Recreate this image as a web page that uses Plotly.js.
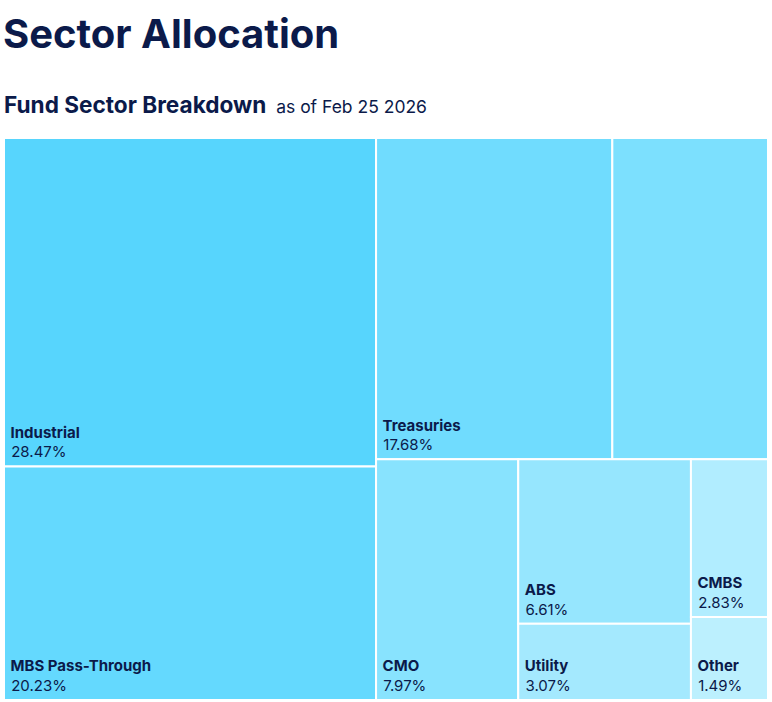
<!DOCTYPE html>
<html>
<head>
<meta charset="utf-8">
<script src="https://cdn.plot.ly/plotly-3.0.1.min.js"></script>
<style>
  html, body { margin: 0; padding: 0; background: #ffffff; }
  #chart { width: 772px; height: 702px; }
</style>
</head>
<body>
<div id="chart"></div>
<script>
// Data
const sectorIds   = ["Industrial", "MBS Pass-Through", "Treasuries", "Unlabeled", "CMO", "ABS", "Utility", "CMBS", "Other"];
const sectorNames = ["Industrial", "MBS Pass-Through", "Treasuries", "", "CMO", "ABS", "Utility", "CMBS", "Other"];
const sectorValues = [28.47, 20.23, 17.68, 11.65, 7.97, 6.61, 3.07, 2.83, 1.49];
const tileColors = ["#57d5fd", "#64d9fe", "#70dcfe", "#7ce0fe", "#88e3fe", "#96e6fe", "#a4e9fe", "#b1edff", "#bcf0fe"];

const textColor = "#0b1a4a";
const FONT = "Inter, 'Noto Sans', sans-serif";

const lead = "\u00a0";
const tileText = sectorIds.map(function (id, i) {
  if (!sectorNames[i]) return "";
  return "<b>" + lead + sectorNames[i] + "</b><br>" + lead + sectorValues[i].toFixed(2) + "%" +
         "<sub>" + lead + "</sub>";
});

const trace = {
  type: "treemap",
  ids: sectorIds,
  labels: sectorIds,
  parents: sectorIds.map(function () { return ""; }),
  values: sectorValues,
  customdata: tileText,
  texttemplate: "%{customdata}",
  hovertemplate: "%{label}: %{value:.2f}%<extra></extra>",
  textposition: "bottom left",
  sort: true,
  tiling: { packing: "squarify", squarifyratio: 1.1, pad: 0 },
  marker: {
    colors: tileColors,
    line: { color: "#ffffff", width: 2 },
    pad: { t: 0, l: 0, r: 0, b: 0 }
  },
  pathbar: { visible: false },
  textfont: { family: FONT, size: 15, color: textColor },
  insidetextfont: { family: FONT, size: 15, color: textColor }
};

const layout = {
  width: 772,
  height: 702,
  margin: { l: 4, r: 4, t: 138, b: 2 },
  paper_bgcolor: "#ffffff",
  showlegend: false,
  title: {
    text: "<b>Sector Allocation</b>",
    font: { family: FONT, size: 40, color: textColor },
    xref: "container", yref: "container",
    x: 3 / 772, xanchor: "left",
    y: 1 - 34 / 702, yanchor: "middle"
  },
  annotations: [{
    text: "<b>Fund Sector Breakdown</b><span style='font-size:17.5px;font-weight:normal'>  as of Feb 25 2026</span>",
    xref: "paper", yref: "paper",
    x: 0, xanchor: "left", xshift: -2,
    y: 1, yanchor: "middle", yshift: 34,
    showarrow: false,
    font: { family: FONT, size: 22.6, color: textColor }
  }]
};

Plotly.newPlot("chart", [trace], layout, { displayModeBar: false, staticPlot: true });
</script>
</body>
</html>
